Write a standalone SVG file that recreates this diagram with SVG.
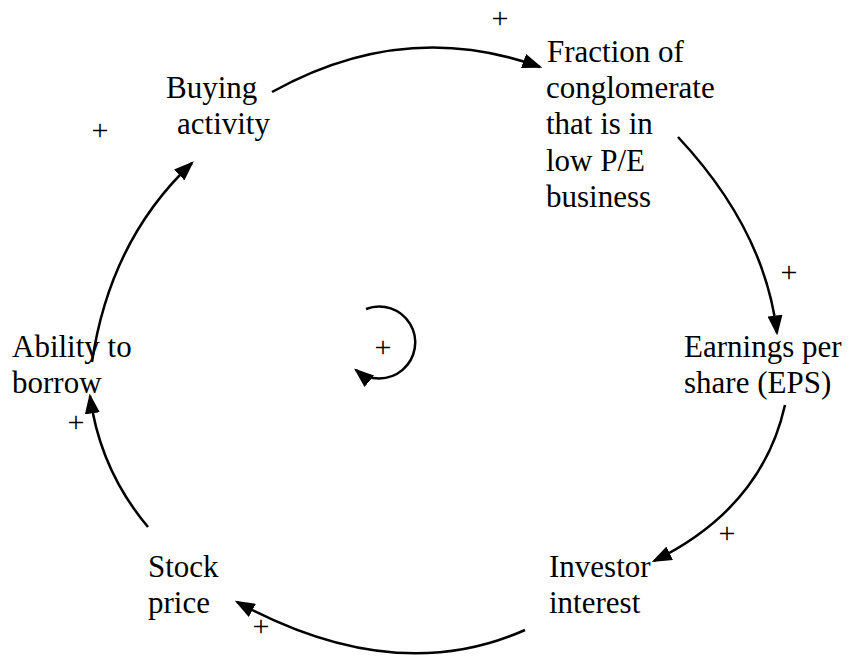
<svg xmlns="http://www.w3.org/2000/svg" width="851" height="658" viewBox="0 0 851 658">
<style>
  .lbl { font-family: "Liberation Serif", "Times New Roman", serif; font-size: 31px; fill: #000; }
  .pol { font-family: "Liberation Serif", "Times New Roman", serif; font-size: 30px; fill: #000; text-anchor: middle; }
  .link { fill: none; stroke: #000; stroke-width: 2.5; }
</style>
<defs>
  <marker id="ah" markerWidth="8" markerHeight="6" refX="7" refY="3" orient="auto" markerUnits="strokeWidth">
    <path d="M0,0 L8,3 L0,6 Z" fill="#000"/>
  </marker>
</defs>
<rect width="851" height="658" fill="#fff"/>
<g id="buying"><text class="lbl" x="166" y="98">Buying</text><text class="lbl" x="177" y="134">activity</text></g>
<g id="fraction"><text class="lbl" x="547" y="62">Fraction of</text><text class="lbl" x="546" y="98">conglomerate</text><text class="lbl" x="546" y="134">that is in</text><text class="lbl" x="546" y="171">low P/E</text><text class="lbl" x="546" y="207">business</text></g>
<g id="eps"><text class="lbl" x="684" y="357">Earnings per</text><text class="lbl" x="684" y="393">share (EPS)</text></g>
<g id="investor"><text class="lbl" x="549" y="577">Investor</text><text class="lbl" x="549" y="613">interest</text></g>
<g id="stock"><text class="lbl" x="148" y="577">Stock</text><text class="lbl" x="148" y="613">price</text></g>
<g id="ability"><text class="lbl" x="12" y="357">Ability to</text><text class="lbl" x="12" y="393">borrow</text></g>
<g id="connectors">
  <path class="link" d="M272,92 Q405,18 540,67" marker-end="url(#ah)"/>
  <path class="link" d="M678,137 Q765,230 777,333" marker-end="url(#ah)"/>
  <path class="link" d="M785,405 Q762,508 654,561" marker-end="url(#ah)"/>
  <path class="link" d="M525,630 Q395,688 237,602" marker-end="url(#ah)"/>
  <path class="link" d="M148,527 Q100,470 90,396" marker-end="url(#ah)"/>
  <path class="link" d="M92,362 Q110,240 192,163" marker-end="url(#ah)"/>
  <path class="link" d="M366,309 A36,36 0 1 1 356,370" marker-end="url(#ah)"/>
</g>
<g id="polarities">
  <text class="pol" x="500" y="28">+</text>
  <text class="pol" x="100" y="140">+</text>
  <text class="pol" x="789" y="282">+</text>
  <text class="pol" x="727" y="543">+</text>
  <text class="pol" x="261" y="636">+</text>
  <text class="pol" x="76" y="432">+</text>
  <text class="pol" x="383" y="357">+</text>
</g>
</svg>
